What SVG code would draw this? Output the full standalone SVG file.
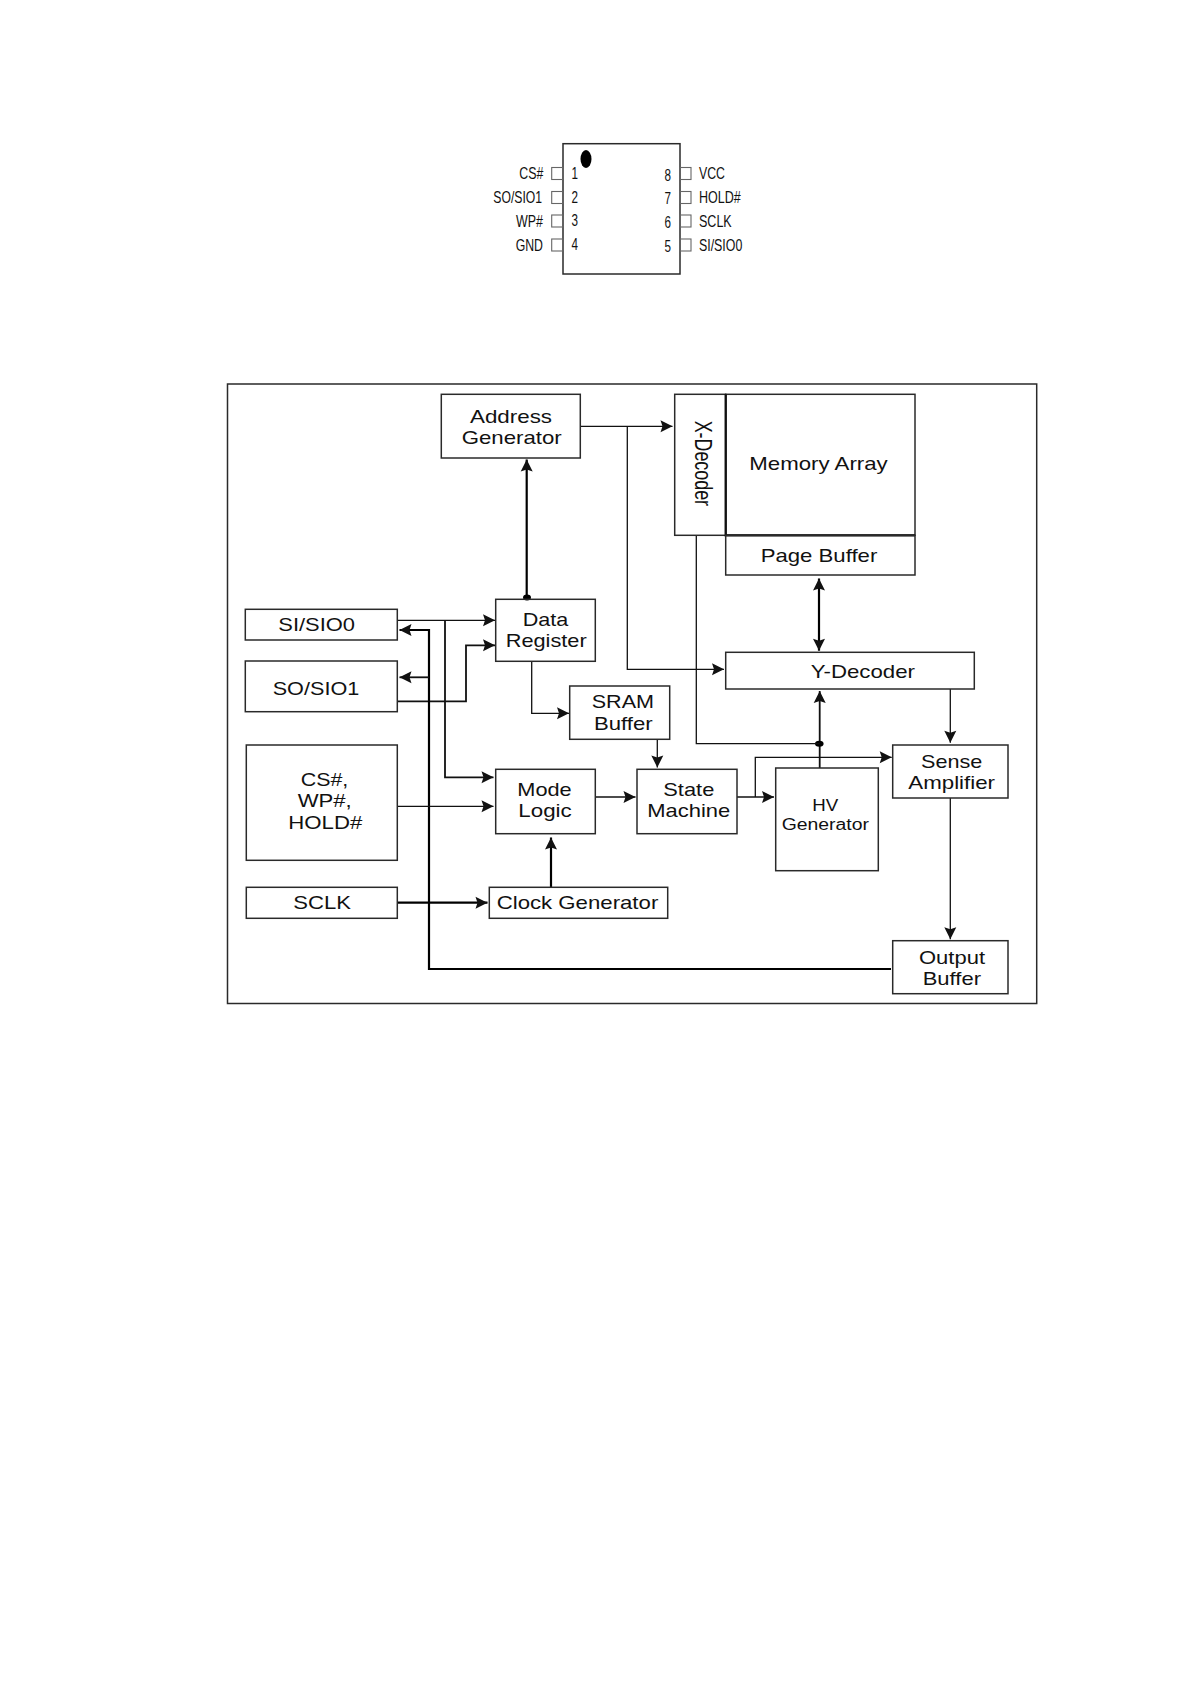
<svg xmlns="http://www.w3.org/2000/svg" width="1191" height="1684" viewBox="0 0 1191 1684">
<style>
text{font-family:"Liberation Sans",Arial,sans-serif;fill:#111}
.t{font-size:19px}
.p{font-size:17px}
.box{fill:none;stroke:#2a2a2a;stroke-width:1.5}
.pin{fill:none;stroke:#666;stroke-width:1.1}
.w{fill:none;stroke:#111;stroke-width:1.3}
.m{fill:none;stroke:#111;stroke-width:1.8}
.b{fill:none;stroke:#000;stroke-width:2.2}
</style>
<defs>
<marker id="a" markerUnits="userSpaceOnUse" markerWidth="14" markerHeight="14" refX="12" refY="6" orient="auto-start-reverse" overflow="visible"><path d="M0,0L12,6L0,12L2,6Z" fill="#111"/></marker>
</defs>
<rect width="1191" height="1684" fill="#fff"/>
<g id="chip">
<rect class="box" x="563" y="143.7" width="117" height="130.3"/>
<ellipse cx="586" cy="159" rx="5.5" ry="9" fill="#000"/>
<rect class="pin" x="551.7" y="167.5" width="11.3" height="12"/>
<rect class="pin" x="551.7" y="191.5" width="11.3" height="12"/>
<rect class="pin" x="551.7" y="215" width="11.3" height="12"/>
<rect class="pin" x="551.7" y="239" width="11.3" height="12"/>
<rect class="pin" x="680" y="167.5" width="11" height="12"/>
<rect class="pin" x="680" y="191.5" width="11" height="12"/>
<rect class="pin" x="680" y="215" width="11" height="12"/>
<rect class="pin" x="680" y="239" width="11" height="12"/>
<text class="p" x="519.3" y="179" textLength="24" lengthAdjust="spacingAndGlyphs">CS#</text>
<text class="p" x="493.3" y="203" textLength="48.7" lengthAdjust="spacingAndGlyphs">SO/SIO1</text>
<text class="p" x="516" y="226.7" textLength="27" lengthAdjust="spacingAndGlyphs">WP#</text>
<text class="p" x="515.7" y="250.7" textLength="27.3" lengthAdjust="spacingAndGlyphs">GND</text>
<text class="p" x="571.5" y="179" textLength="6.5" lengthAdjust="spacingAndGlyphs">1</text>
<text class="p" x="571.5" y="203" textLength="6.5" lengthAdjust="spacingAndGlyphs">2</text>
<text class="p" x="571.5" y="226" textLength="6.5" lengthAdjust="spacingAndGlyphs">3</text>
<text class="p" x="571.5" y="250" textLength="6.5" lengthAdjust="spacingAndGlyphs">4</text>
<text class="p" x="664.5" y="180.7" textLength="6.5" lengthAdjust="spacingAndGlyphs">8</text>
<text class="p" x="664.5" y="204" textLength="6.5" lengthAdjust="spacingAndGlyphs">7</text>
<text class="p" x="664.5" y="228" textLength="6.5" lengthAdjust="spacingAndGlyphs">6</text>
<text class="p" x="664.5" y="252" textLength="6.5" lengthAdjust="spacingAndGlyphs">5</text>
<text class="p" x="699" y="179" textLength="26" lengthAdjust="spacingAndGlyphs">VCC</text>
<text class="p" x="699" y="203" textLength="41.7" lengthAdjust="spacingAndGlyphs">HOLD#</text>
<text class="p" x="699" y="227" textLength="32.7" lengthAdjust="spacingAndGlyphs">SCLK</text>
<text class="p" x="699" y="250.7" textLength="43.3" lengthAdjust="spacingAndGlyphs">SI/SIO0</text>
</g>
<rect id="frame" class="box" x="227.5" y="384" width="809.2" height="619.5"/>
<g id="connectors">
<path class="w" d="M580.3 426.3H672.5" marker-end="url(#a)"/>
<path class="w" d="M627.3 426.3V669.3H724" marker-end="url(#a)"/>
<path class="b" d="M526.7 599V459.5" marker-end="url(#a)"/>
<ellipse cx="527" cy="597.5" rx="4" ry="3" fill="#000"/>
<path class="w" d="M397.3 620.3H495" marker-end="url(#a)"/>
<path class="m" d="M445 620.3V777.3H493.5" marker-end="url(#a)"/>
<path class="m" d="M397.3 701.3H466V645.3H495" marker-end="url(#a)"/>
<path class="b" d="M891 969H429V630H399.5" marker-end="url(#a)"/>
<path class="m" d="M429 677.3H399.5" marker-end="url(#a)"/>
<path class="w" d="M397.3 806.3H493.5" marker-end="url(#a)"/>
<path class="b" d="M397.3 902.7H487.5" marker-end="url(#a)"/>
<path class="b" d="M551 887.3V837.5" marker-end="url(#a)"/>
<path class="w" d="M531.7 661.3V713.3H569" marker-end="url(#a)"/>
<path class="w" d="M595.3 797H635.5" marker-end="url(#a)"/>
<path class="w" d="M657.3 739.3V767.5" marker-end="url(#a)"/>
<path class="w" d="M737 797H774" marker-end="url(#a)"/>
<path class="w" d="M755.3 797V757.3H891.7" marker-end="url(#a)"/>
<path class="m" d="M819.7 768V691" marker-end="url(#a)"/>
<ellipse cx="819.3" cy="743.7" rx="4.3" ry="3" fill="#000"/>
<path class="w" d="M696.3 535.3V743.7H819.7"/>
<path class="w" d="M950.3 689V742.7" marker-end="url(#a)"/>
<path class="w" d="M950.3 798V939.3" marker-end="url(#a)"/>
<path class="b" d="M819 578.5V650.7" marker-start="url(#a)" marker-end="url(#a)"/>
</g>
<g id="address-generator"><rect class="box" x="441.3" y="394.3" width="139" height="63.7"/>
<text class="t" x="470" y="422.5" textLength="82" lengthAdjust="spacingAndGlyphs">Address</text>
<text class="t" x="461.7" y="443.8" textLength="100" lengthAdjust="spacingAndGlyphs">Generator</text></g>
<g id="x-decoder"><rect class="box" x="674.7" y="394.3" width="51" height="141"/>
<text x="0" y="0" font-size="23" textLength="85.3" lengthAdjust="spacingAndGlyphs" transform="translate(695 420.7) rotate(90)">X-Decoder</text></g>
<g id="memory-array"><rect class="box" x="725.7" y="394.3" width="189.3" height="141"/>
<path d="M725.7 394.3V535.3H915" fill="none" stroke="#111" stroke-width="2.2"/>
<text class="t" x="749.3" y="469.5" textLength="138.4" lengthAdjust="spacingAndGlyphs">Memory Array</text></g>
<g id="page-buffer"><rect class="box" x="725.7" y="535.3" width="189.3" height="39.7"/>
<text class="t" x="760.7" y="562.2" textLength="116.6" lengthAdjust="spacingAndGlyphs">Page Buffer</text></g>
<g id="y-decoder"><rect class="box" x="725.7" y="652.3" width="248.6" height="36.7"/>
<text class="t" x="810.7" y="678.2" textLength="104.3" lengthAdjust="spacingAndGlyphs">Y-Decoder</text></g>
<g id="data-register"><rect class="box" x="495.7" y="599.3" width="99.6" height="62"/>
<text class="t" x="522.7" y="625.8" textLength="45.6" lengthAdjust="spacingAndGlyphs">Data</text>
<text class="t" x="505.7" y="647.2" textLength="81" lengthAdjust="spacingAndGlyphs">Register</text></g>
<g id="si-sio0"><rect class="box" x="245.3" y="609.3" width="152" height="30.7"/>
<text class="t" x="278.3" y="630.5" textLength="76.7" lengthAdjust="spacingAndGlyphs">SI/SIO0</text></g>
<g id="so-sio1"><rect class="box" x="245.3" y="661" width="152" height="50.7"/>
<text class="t" x="272.7" y="694.8" textLength="86.6" lengthAdjust="spacingAndGlyphs">SO/SIO1</text></g>
<g id="control-pins"><rect class="box" x="246.3" y="745" width="151" height="115.3"/>
<text class="t" x="300.7" y="785.5" textLength="47.6" lengthAdjust="spacingAndGlyphs">CS#,</text>
<text class="t" x="297.7" y="807.2" textLength="54" lengthAdjust="spacingAndGlyphs">WP#,</text>
<text class="t" x="288.3" y="828.8" textLength="74" lengthAdjust="spacingAndGlyphs">HOLD#</text></g>
<g id="sclk"><rect class="box" x="246.3" y="887.3" width="151" height="31"/>
<text class="t" x="293.3" y="908.8" textLength="57.7" lengthAdjust="spacingAndGlyphs">SCLK</text></g>
<g id="clock-generator"><rect class="box" x="489.3" y="887.3" width="178.4" height="31"/>
<text class="t" x="496.7" y="908.8" textLength="161.6" lengthAdjust="spacingAndGlyphs">Clock Generator</text></g>
<g id="mode-logic"><rect class="box" x="495.7" y="769.3" width="99.6" height="64.4"/>
<text class="t" x="517.3" y="795.5" textLength="54.4" lengthAdjust="spacingAndGlyphs">Mode</text>
<text class="t" x="518.3" y="816.5" textLength="53.4" lengthAdjust="spacingAndGlyphs">Logic</text></g>
<g id="sram-buffer"><rect class="box" x="569.7" y="686" width="100" height="53.3"/>
<text class="t" x="591.7" y="707.8" textLength="62.3" lengthAdjust="spacingAndGlyphs">SRAM</text>
<text class="t" x="594" y="729.8" textLength="58.7" lengthAdjust="spacingAndGlyphs">Buffer</text></g>
<g id="state-machine"><rect class="box" x="637" y="769.3" width="100" height="64.4"/>
<text class="t" x="663.3" y="796.2" textLength="51" lengthAdjust="spacingAndGlyphs">State</text>
<text class="t" x="647.3" y="817.2" textLength="83" lengthAdjust="spacingAndGlyphs">Machine</text></g>
<g id="hv-generator"><rect class="box" x="775.7" y="768" width="102.6" height="102.7"/>
<text x="812.3" y="810.5" font-size="16" textLength="26" lengthAdjust="spacingAndGlyphs">HV</text>
<text x="781.7" y="829.8" font-size="16" textLength="87.3" lengthAdjust="spacingAndGlyphs">Generator</text></g>
<g id="sense-amplifier"><rect class="box" x="892.7" y="745" width="115.3" height="53"/>
<text class="t" x="921" y="767.8" textLength="61.3" lengthAdjust="spacingAndGlyphs">Sense</text>
<text class="t" x="908.3" y="788.8" textLength="86.7" lengthAdjust="spacingAndGlyphs">Amplifier</text></g>
<g id="output-buffer"><rect class="box" x="892.7" y="940.7" width="115.3" height="53"/>
<text class="t" x="919" y="963.8" textLength="66" lengthAdjust="spacingAndGlyphs">Output</text>
<text class="t" x="922.7" y="984.8" textLength="58.3" lengthAdjust="spacingAndGlyphs">Buffer</text></g>
</svg>
